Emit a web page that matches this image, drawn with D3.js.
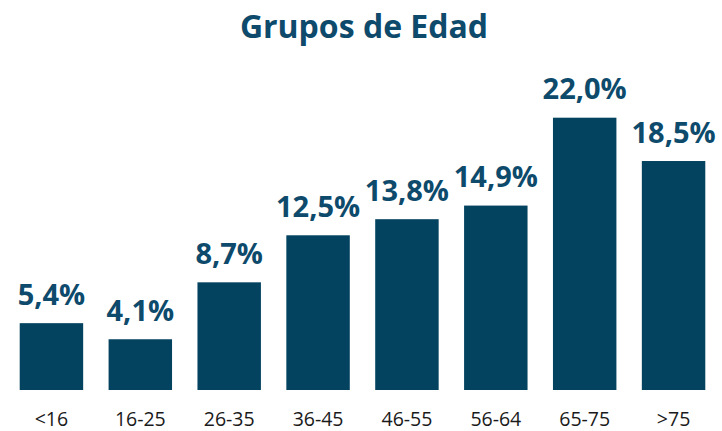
<!DOCTYPE html>
<html>
<head>
<meta charset="utf-8">
<script src="https://cdn.jsdelivr.net/npm/d3@7"></script>
<style>
  body { margin: 0; background: #fff; }
  svg { display: block; font-family: "Open Sans", sans-serif; }
</style>
</head>
<body>
<svg width="722" height="431"></svg>
<script>
var categories = ["<16", "16-25", "26-35", "36-45", "46-55", "56-64", "65-75", ">75"];
var values = [5.4, 4.1, 8.7, 12.5, 13.8, 14.9, 22.0, 18.5];
var valueLabels = ["5,4%", "4,1%", "8,7%", "12,5%", "13,8%", "14,9%", "22,0%", "18,5%"];

var svg = d3.select("svg"),
    baseline = 390;

var x = d3.scaleBand()
    .domain(categories)
    .range([7, 718])
    .paddingInner(0.286)
    .paddingOuter(0.143);

var y = d3.scaleLinear()
    .domain([0, 22])
    .range([baseline, 117.7]);

svg.append("text")
    .attr("x", 364)
    .attr("y", 38)
    .attr("text-anchor", "middle")
    .attr("font-size", 32)
    .attr("font-weight", "bold")
    .attr("fill", "#0d4a6b")
    .text("Grupos de Edad");

svg.selectAll(".bar")
    .data(values)
  .enter().append("rect")
    .attr("class", "bar")
    .attr("x", function(d, i) { return x(categories[i]); })
    .attr("width", x.bandwidth())
    .attr("y", function(d) { return y(d); })
    .attr("height", function(d) { return baseline - y(d); })
    .attr("fill", "#03435f");

svg.selectAll(".val")
    .data(values)
  .enter().append("text")
    .attr("class", "val")
    .attr("x", function(d, i) { return x(categories[i]) + x.bandwidth() / 2; })
    .attr("y", function(d) { return y(d) - 18.5; })
    .attr("text-anchor", "middle")
    .attr("font-size", 29)
    .attr("font-weight", "bold")
    .attr("fill", "#0d4a6b")
    .text(function(d, i) { return valueLabels[i]; });

// category labels, no axis line
var xAxis = svg.append("g")
    .attr("transform", "translate(0," + baseline + ")")
    .call(d3.axisBottom(x).tickSize(0).tickPadding(0));
xAxis.select(".domain").remove();
xAxis.selectAll("text")
    .attr("dy", null)
    .attr("y", 36)
    .attr("font-size", 19.5)
    .attr("font-family", "'Open Sans', sans-serif")
    .attr("fill", "#1a1a1a");
</script>
</body>
</html>
